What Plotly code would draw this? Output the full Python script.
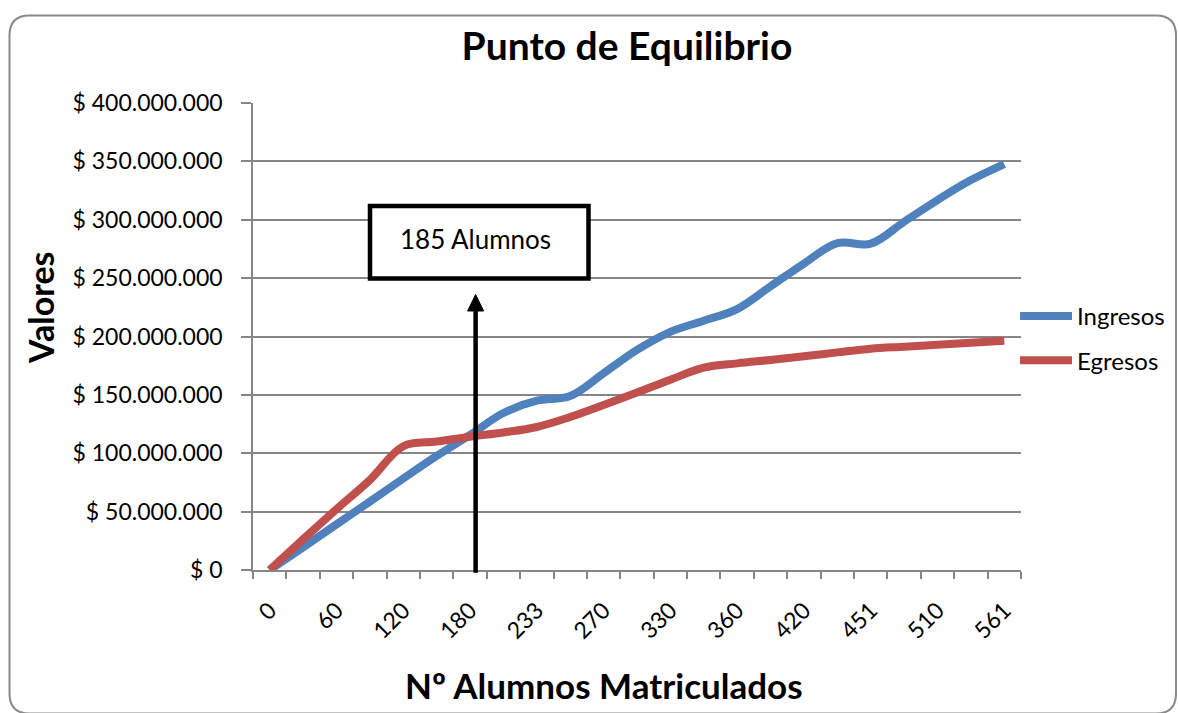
import numpy as np
import plotly.graph_objects as go

# ---------------- data ----------------
categories = [0, 30, 60, 90, 120, 150, 180, 210, 233, 240, 270, 300,
              330, 345, 360, 390, 420, 440, 451, 480, 510, 540, 561]
ingresos = [0, 19_400_000, 39_100_000, 58_600_000, 78_300_000, 97_700_000,
            115_700_000, 134_500_000, 145_000_000, 149_000_000, 168_500_000,
            188_500_000, 204_000_000, 213_500_000, 223_500_000, 243_000_000,
            262_500_000, 280_000_000, 279_500_000, 298_300_000, 316_900_000,
            334_000_000, 347_700_000]
egresos = [0, 26_300_000, 52_100_000, 77_100_000, 106_000_000, 110_000_000,
           114_200_000, 117_800_000, 122_500_000, 131_000_000, 141_300_000,
           152_000_000, 163_000_000, 173_300_000, 177_000_000, 179_900_000,
           183_000_000, 186_400_000, 189_600_000, 191_300_000, 193_000_000,
           194_700_000, 196_400_000]
y_ticks = [0, 50_000_000, 100_000_000, 150_000_000, 200_000_000,
           250_000_000, 300_000_000, 350_000_000, 400_000_000]
y_tick_text = ["$ " + f"{v:,}".replace(",", ".") for v in y_ticks]
equilibrio_alumnos = 185
series_names = ["Ingresos", "Egresos"]
colors = ["#4F81BD", "#C0504D"]

FONT = "Lato"
GRID = "#868686"
W, H = 1178, 713

idx = list(range(len(categories)))
label_idx = idx[::2]
label_txt = [str(categories[i]) for i in label_idx]
boundaries = [i - 0.5 for i in idx] + [idx[-1] + 0.5]

# plot area in pixels (for decorations)
L, R, T, B = 253, 1021, 103, 570
def px(x):
    return (x - L) / (R - L)
def py(y):
    return (B - y) / (B - T)

fig = go.Figure()
for name, vals, col in zip(series_names, [ingresos, egresos], colors):
    fig.add_trace(go.Scatter(
        x=idx, y=vals, name=name, legendgroup=name, mode="lines",
        line=dict(color=col, width=8, shape="spline", smoothing=1.0),
        hoverinfo="skip"))

arrow_x = float(np.interp(equilibrio_alumnos, categories, idx))

# rounded outer border
l0, t0, r0, b0, rad = 9.5, 15.5, 1176, 713.5, 20
border = (f"M {px(l0+rad)},{py(t0)} L {px(r0-rad)},{py(t0)} "
          f"Q {px(r0)},{py(t0)} {px(r0)},{py(t0+rad)} "
          f"L {px(r0)},{py(b0-rad)} Q {px(r0)},{py(b0)} {px(r0-rad)},{py(b0)} "
          f"L {px(l0+rad)},{py(b0)} Q {px(l0)},{py(b0)} {px(l0)},{py(b0-rad)} "
          f"L {px(l0)},{py(t0+rad)} Q {px(l0)},{py(t0)} {px(l0+rad)},{py(t0)} Z")

hw = 0.24
shapes = [
    dict(type="path", path=border, xref="paper", yref="paper",
         line=dict(color="#8a8a8a", width=2), layer="below"),
    # label box
    dict(type="rect", xref="paper", yref="paper",
         x0=px(370), x1=px(588.5), y0=py(278.4), y1=py(206),
         line=dict(color="black", width=4.5), fillcolor="white", layer="above"),
    # arrow shaft
    dict(type="line", xref="x", yref="paper", x0=arrow_x, x1=arrow_x,
         y0=py(572.7), y1=py(309), line=dict(color="black", width=4.5)),
    # arrow head
    dict(type="path", xref="x", yref="paper",
         path=f"M {arrow_x-hw},{py(311)} L {arrow_x},{py(294.5)} L {arrow_x+hw},{py(311)} Z",
         fillcolor="black", line=dict(color="black", width=1)),
]

annotations = [
    dict(text=f"{equilibrio_alumnos} Alumnos", xref="x", yref="paper",
         x=arrow_x, y=py(239), xanchor="center", yanchor="middle", showarrow=False,
         font=dict(family=FONT, size=26, color="black")),
    dict(text="<b>Valores</b>", xref="paper", yref="paper",
         x=px(40), y=py(308), xanchor="center", yanchor="middle",
         textangle=-90, showarrow=False,
         font=dict(family=FONT, size=34, color="black")),
    dict(text="<b>Nº Alumnos Matriculados</b>", xref="paper", yref="paper",
         x=px(604), y=py(685), xanchor="center", yanchor="middle", showarrow=False,
         font=dict(family=FONT, size=35, color="black")),
]

fig.update_layout(
    width=W, height=H, autosize=False,
    margin=dict(l=L, r=W - R, t=T, b=H - B, pad=0, autoexpand=False),
    paper_bgcolor="white", plot_bgcolor="white",
    title=dict(text="<b>Punto de Equilibrio</b>", xref="paper", x=px(627),
               xanchor="center", yref="container", y=1 - 46 / H,
               yanchor="middle", font=dict(family=FONT, size=39, color="black")),
    font=dict(family=FONT, size=23, color="black"),
    showlegend=True,
    legend=dict(xref="container", yref="container", x=1015 / W, y=1 - 294 / H,
                xanchor="left", yanchor="top",
                bgcolor="rgba(0,0,0,0)", font=dict(family=FONT, size=24, color="black"),
                traceorder="grouped", tracegroupgap=10, itemwidth=52),
    shapes=shapes, annotations=annotations,
)

fig.update_xaxes(
    range=[-0.5, len(categories) - 0.5], showgrid=False, zeroline=False,
    showline=True, linecolor=GRID, linewidth=1.5,
    tickmode="array", tickvals=label_idx, ticktext=label_txt,
    ticks="", tickangle=-45, ticklabelstandoff=16,
    tickfont=dict(family=FONT, size=23, color="black"),
    minor=dict(tickmode="array", tickvals=boundaries, ticks="outside",
               ticklen=7, tickwidth=1.5, tickcolor=GRID, showgrid=False),
)
fig.update_yaxes(
    range=[0, 400_000_000], tickmode="array", tickvals=y_ticks,
    ticktext=y_tick_text,
    showgrid=True, gridcolor=GRID, gridwidth=1.5, zeroline=False,
    showline=True, linecolor=GRID, linewidth=1.5,
    ticks="outside", ticklen=10, tickwidth=1.5, tickcolor=GRID,
    ticklabelstandoff=14,
    tickfont=dict(family=FONT, size=23, color="black"),
)

fig.write_html(
    "out.html", config={"displayModeBar": False},
    post_script=("document.body.style.margin='0';"
                 "document.body.style.overflow='hidden';"
                 "document.documentElement.style.overflow='hidden';"))
